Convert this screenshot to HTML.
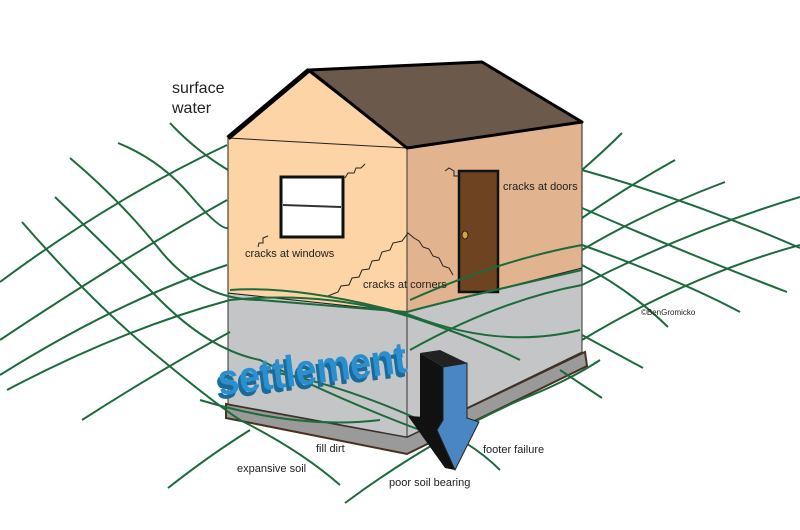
<!DOCTYPE html>
<html><head><style>body{margin:0;background:#fff}svg{display:block}</style></head>
<body>
<svg width="800" height="530" viewBox="0 0 800 530" xmlns="http://www.w3.org/2000/svg" font-family="Liberation Sans, sans-serif">
<polygon points="226,404 407,437 585,352 587,366 407,454 226,418" fill="#9a9a9a" stroke="#4a3020" stroke-width="2"/>
<polygon points="228,293 407,312 582,268 582,352 407,437 228,404" fill="#c4c5c7" stroke="#333" stroke-width="1"/>
<polygon points="228,138 309,72 407,148 407,312 228,293" fill="#fdd4a5" stroke="#222" stroke-width="1"/>
<polygon points="407,148 582,122 582,268 407,312" fill="#e2b38f" stroke="#222" stroke-width="1"/>
<line x1="407" y1="148" x2="407" y2="437" stroke="#333" stroke-width="1"/>
<line x1="228" y1="138" x2="407" y2="148" stroke="#222" stroke-width="1"/>
<polygon points="309,70 482,62 582,122 407,148" fill="#6b5a4c" stroke="#000" stroke-width="3" stroke-linejoin="round"/>
<line x1="228" y1="138" x2="309" y2="70" stroke="#000" stroke-width="5"/>
<rect x="281" y="177" width="62" height="60" fill="#fff" stroke="#111" stroke-width="3"/>
<line x1="283" y1="205" x2="341" y2="207" stroke="#333" stroke-width="2"/>
<rect x="459" y="171" width="39" height="121" fill="#6e4322" stroke="#111" stroke-width="2.5"/>
<ellipse cx="465" cy="235" rx="3" ry="4" fill="#e0a030" stroke="#222"/>
<g fill="none" stroke="#222" stroke-width="1">
<path d="M345,178 l3,-5 6,0 2,-5 5,0 4,-4"/>
<path d="M268,236 l-5,2 0,5 -4,0 -1,4"/>
<path d="M445,171 l4,-3 5,3 0,5 5,0"/>
<path d="M328,296 l10,-4 3,-6 8,-1 3,-7 7,-1 3,-7 7,-1 3,-8 7,-1 3,-8 8,-2 3,-7 9,-2 6,-8 6,5 5,3 4,6 6,2 4,7 6,2 4,8 6,2 4,7"/>
</g>
<g fill="none" stroke="#1d6a3c" stroke-width="2">
<path d="M170,123 Q195,150 228,170"/>
<path d="M118,143 Q160,160 190,195 T228,228"/>
<path d="M70,158 Q120,200 160,250 T260,300 L407,312 Q450,300 582,270"/>
<path d="M55,197 Q110,250 160,300 T260,360 Q340,400 420,430"/>
<path d="M22,222 Q90,300 150,350 T240,420 Q300,450 340,485"/>
<path d="M0,282 Q110,200 227,145"/>
<path d="M0,340 Q120,260 227,200"/>
<path d="M0,375 Q120,300 227,265"/>
<path d="M7,390 Q120,330 230,300 Q330,290 420,320 Q480,340 520,360"/>
<path d="M82,420 Q160,370 230,332"/>
<path d="M168,488 Q210,455 250,430"/>
<path d="M230,290 Q300,285 410,315 Q500,350 580,330"/>
<path d="M260,370 Q330,380 420,420 Q470,440 500,470"/>
<path d="M345,503 Q430,440 520,400 Q570,380 600,360"/>
<path d="M200,400 Q300,430 380,420"/>
<path d="M560,370 L602,398"/>
<path d="M582,170 Q605,150 622,133"/>
<path d="M582,218 Q630,185 675,160"/>
<path d="M582,250 Q650,210 725,182"/>
<path d="M582,285 Q690,230 800,197"/>
<path d="M582,340 Q690,275 800,245"/>
<path d="M582,170 Q690,200 800,248"/>
<path d="M582,208 Q690,255 787,292"/>
<path d="M582,245 Q680,280 740,312"/>
<path d="M582,265 Q630,290 668,327"/>
<path d="M582,335 L643,368"/>
<path d="M410,300 Q500,260 582,245"/>
<path d="M410,350 Q500,300 582,285"/>
</g>
<g transform="rotate(-7 310 360)" font-weight="bold" font-size="44" font-family="Liberation Sans, sans-serif">
<text x="213" y="388" fill="#1a6a9a" textLength="190" lengthAdjust="spacingAndGlyphs">settlement</text>
<text x="216" y="384" fill="#2a8fcf" textLength="190" lengthAdjust="spacingAndGlyphs">settlement</text>
</g>
<!-- arrow -->
<polygon points="420,353 440,350 467,363 443,367" fill="#222"/>
<polygon points="420,353 443,367 443,418 420,418" fill="#111"/>
<polygon points="408,416 443,418 455,470 445,468" fill="#111"/>
<polygon points="443,367 467,363 467,418 479,422 455,470 437,430 443,420" fill="#4a86c2" stroke="#222" stroke-width="1"/>
<g fill="#222" font-size="11">
<text x="245" y="257">cracks at windows</text>
<text x="363" y="288">cracks at corners</text>
<text x="503" y="190">cracks at doors</text>
<text x="237" y="472">expansive soil</text>
<text x="316" y="452">fill dirt</text>
<text x="483" y="453">footer failure</text>
<text x="389" y="486">poor soil bearing</text>
<text x="641" y="315" font-size="8">©BenGromicko</text>
</g>
<text x="172" y="93" font-size="16" fill="#222">surface</text>
<text x="172" y="113" font-size="16" fill="#222">water</text>
</svg>
</body></html>
